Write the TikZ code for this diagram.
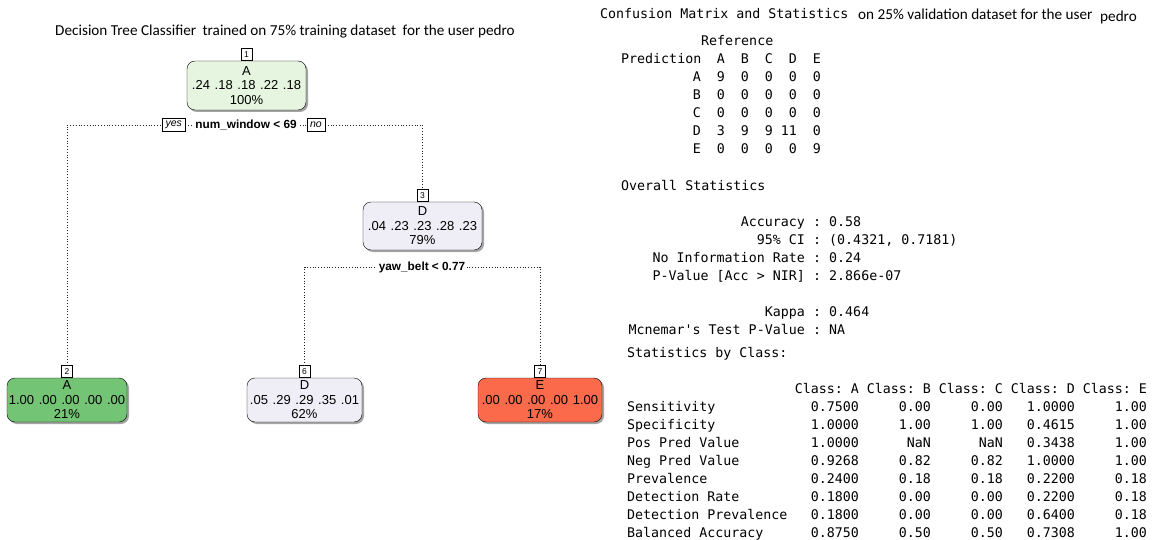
\documentclass[tikz,border=0pt]{standalone}
\usepackage{fontspec}
\setmainfont{Liberation Sans}
\setmonofont{DejaVu Sans Mono}
\newfontfamily\titlefont{Carlito}
\usetikzlibrary{positioning, shadows}
\definecolor{rootgreen}{RGB}{229,245,224}
\definecolor{leafgreen}{RGB}{116,196,118}
\definecolor{lightpurple}{RGB}{239,237,245}
\definecolor{leafred}{RGB}{251,106,74}
\definecolor{shadowgray}{RGB}{165,165,165}
\newcommand{\pgap}{\hspace{0.36em}}

\begin{document}
\begin{tikzpicture}[x=1pt, y=-1pt,
    treenode/.style={draw, rounded corners=8pt, align=center, inner sep=0pt,
      minimum height=44pt, font=\fontsize{13}{14.5}\selectfont,
      drop shadow={shadow xshift=2pt, shadow yshift=-2pt, fill=shadowgray, opacity=1}},
    tagbox/.style={draw, fill=white, anchor=south, inner sep=1pt,
      minimum width=11pt, minimum height=12pt, font=\fontsize{8.5}{9}\selectfont},
    yesno/.style={draw, fill=white, inner xsep=3pt, inner ysep=1pt,
      minimum height=13pt, font=\fontsize{10.5}{11}\selectfont\itshape},
    splitlabel/.style={fill=white, inner xsep=2pt, inner ysep=1pt,
      font=\fontsize{11.8}{13}\selectfont\bfseries},
    conn/.style={dotted, line width=0.8pt, black!85},
    mono/.style={inner sep=0pt, font=\fontsize{13.3}{18}\selectfont\ttfamily},
    titletext/.style={inner sep=0pt, font=\titlefont\fontsize{15.2}{17}\selectfont}]
    \fill[white] (0,0) rectangle (1156,540);
    \useasboundingbox (0,0) rectangle (1156,540);

    % Decision tree
    \node[titletext, anchor=base] (treetitle) at (285,36) {Decision Tree Classifier\hspace{3pt} trained on 75\% training dataset\hspace{3pt} for the user pedro};

    \node[treenode, fill=rootgreen, minimum width=119pt, minimum height=49pt] (n1) at (246.5,85.5) {A\\.24\pgap.18\pgap.18\pgap.22\pgap.18\\100\%};
    \node[tagbox] (t1) at (n1.north) {1};

    \node[treenode, fill=lightpurple, minimum width=119pt, minimum height=48pt] (n3) at (422.5,226) {D\\.04\pgap.23\pgap.23\pgap.28\pgap.23\\79\%};
    \node[tagbox] (t3) at (n3.north) {3};

    \node[treenode, fill=leafgreen, minimum width=120pt] (n2) at (67,400) {A\\1.00\pgap.00\pgap.00\pgap.00\pgap.00\\21\%};
    \node[tagbox] (t2) at (n2.north) {2};

    \node[treenode, fill=lightpurple, minimum width=115pt] (n6) at (304.5,400) {D\\.05\pgap.29\pgap.29\pgap.35\pgap.01\\62\%};
    \node[tagbox] (t6) at (n6.north) {6};

    \node[treenode, fill=leafred, minimum width=124pt] (n7) at (540,400) {E\\.00\pgap.00\pgap.00\pgap.00\pgap1.00\\17\%};
    \node[tagbox] (t7) at (n7.north) {7};

    \coordinate (split1) at (246,125);
    \coordinate (split2) at (422,267);
    \draw[conn] (t2.north) |- (split1) -| (t3.north);
    \draw[conn] (t6.north) |- (split2) -| (t7.north);

    \node[splitlabel] (s1) at (split1) {num\_window < 69};
    \node[yesno, left=8pt of s1] (yes) {yes};
    \node[yesno, right=8pt of s1] (no) {no};
    \node[splitlabel] (s2) at (split2) {yaw\_belt < 0.77};

    % Confusion matrix
    \node[mono, anchor=base west] (cmtitle) at (600,19) {Confusion Matrix and Statistics};
    \node[titletext, anchor=base west] (cmsub) at (858,20) {on 25\% validation dataset for the user};
    \node[titletext, anchor=base west] (cmuser) at (1100,21.5) {pedro};

    \node[mono, anchor=base west] (ref) at (701,46) {Reference};
    \node[mono, anchor=base west] (pred) at (621,64) {Prediction};
    \foreach \c [count=\i from 0] in {A,B,C,D,E}
        \node[mono, anchor=base east] (ref\c) at (725+24*\i,64) {\c};
    \foreach \r/\vals [count=\j from 0] in {A/{9,0,0,0,0}, B/{0,0,0,0,0}, C/{0,0,0,0,0}, D/{3,9,9,11,0}, E/{0,0,0,0,9}} {
        \node[mono, anchor=base east] (pred\r) at (701,82+18*\j) {\r};
        \foreach \v [count=\i from 0] in \vals
            \node[mono, anchor=base east] (cm\r\i) at (725+24*\i,82+18*\j) {\v};
    }

    % Overall statistics
    \node[mono, anchor=base west] (overall) at (621,190) {Overall Statistics};
    \foreach \lab/\val/\yy [count=\k] in {Accuracy/0.58/226, {95\% CI}/{(0.4321, 0.7181)}/244,
        {No Information Rate}/0.24/262, {P-Value [Acc > NIR]}/2.866e-07/280,
        Kappa/0.464/316, {Mcnemar's Test P-Value}/NA/334} {
        \node[mono, anchor=base east] (statlab\k) at (805,\yy) {\lab};
        \node[mono, anchor=base west] (statval\k) at (813,\yy) {: \val};
    }

    % Statistics by class
    \node[mono, anchor=base west] (byclass) at (627,357) {Statistics by Class:};
    \foreach \c [count=\i from 0] in {A,B,C,D,E}
        \node[mono, anchor=base east] (cls\c) at (859+72*\i,393) {Class: \c};
    \foreach \lab/\vals [count=\j from 0] in {
        Sensitivity/{0.7500,0.00,0.00,1.0000,1.00},
        Specificity/{1.0000,1.00,1.00,0.4615,1.00},
        {Pos Pred Value}/{1.0000,NaN,NaN,0.3438,1.00},
        {Neg Pred Value}/{0.9268,0.82,0.82,1.0000,1.00},
        Prevalence/{0.2400,0.18,0.18,0.2200,0.18},
        {Detection Rate}/{0.1800,0.00,0.00,0.2200,0.18},
        {Detection Prevalence}/{0.1800,0.00,0.00,0.6400,0.18},
        {Balanced Accuracy}/{0.8750,0.50,0.50,0.7308,1.00}} {
        \node[mono, anchor=base west] (row\j) at (627,411+18*\j) {\lab};
        \foreach \v [count=\i from 0] in \vals
            \node[mono, anchor=base east] (val\j\i) at (859+72*\i,411+18*\j) {\v};
    }
\end{tikzpicture}
\end{document}
